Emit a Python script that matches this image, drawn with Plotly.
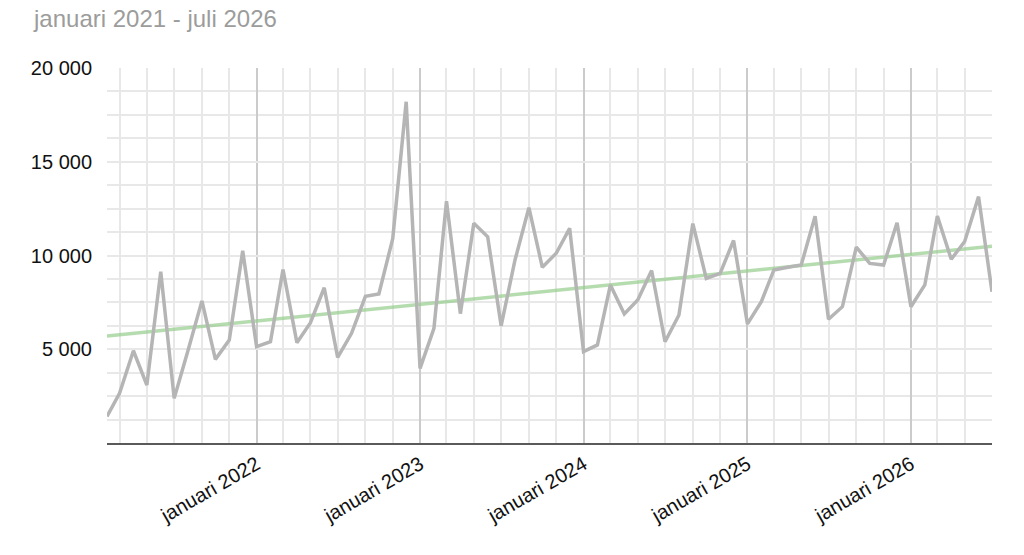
import pandas as pd
import plotly.graph_objects as go

# monthly values, februari 2021 .. juli 2026
months = pd.date_range("2021-02-01", periods=66, freq="MS")
values = [
    1420, 2650, 4920, 3090, 9140, 2380, 4950, 7580, 4460, 5490, 10250,
    5140, 5400, 9250, 5350, 6400, 8280, 4570, 5850, 7820, 7950, 10900, 18200,
    3980, 6120, 12900, 6900, 11720, 11000, 6250, 9760, 12550, 9370, 10120, 11450,
    4870, 5230, 8430, 6880, 7630, 9200, 5400, 6830, 11700, 8780, 9050, 10800,
    6350, 7540, 9230, 9370, 9490, 12100, 6600, 7270, 10450, 9580, 9490, 11750,
    7270, 8430, 12100, 9800, 10750, 13140, 8070,
]

# trend line end points
trend_x = [months[0], months[-1]]
trend_y = [5700, 10500]

year_ticks = ["2022-01-01", "2023-01-01", "2024-01-01", "2025-01-01", "2026-01-01"]
year_labels = ["januari 2022", "januari 2023", "januari 2024", "januari 2025", "januari 2026"]
y_ticks = [5000, 10000, 15000, 20000]

title_text = "januari 2021 - juli 2026"
font_family = "Liberation Sans, Arial, Helvetica, sans-serif"

W, H = 1024, 555
L, R, T, B = 107, 32, 68, 112

fig = go.Figure()

fig.add_trace(go.Scatter(
    x=trend_x, y=trend_y, mode="lines",
    line=dict(color="rgba(150,205,140,0.7)", width=3.5),
    hoverinfo="skip", showlegend=False,
))

fig.add_trace(go.Scatter(
    x=months, y=values, mode="lines",
    line=dict(color="#b5b5b5", width=3.5),
    showlegend=False,
))

fig.update_layout(
    width=W, height=H,
    margin=dict(l=L, r=R, t=T, b=B),
    paper_bgcolor="white", plot_bgcolor="white",
    separators=", ",
    font=dict(family=font_family, size=20, color="#111111"),
)

# heading in the top left corner
fig.add_annotation(
    text=title_text, xref="paper", yref="paper",
    x=(32 - L) / (W - L - R), xanchor="left",
    y=1 + (T - 18) / (H - T - B), yanchor="middle",
    showarrow=False, borderpad=0,
    font=dict(family=font_family, size=24, color="#9c9c9c"),
)

fig.update_xaxes(
    type="date",
    range=[months[0], months[-1]],
    tickvals=year_ticks, ticktext=year_labels,
    tickangle=-30,
    ticks="",
    showgrid=True, gridcolor="#cbcbcb", gridwidth=1.5,
    minor=dict(dtick="M2", tick0="2021-01-01", showgrid=True,
               gridcolor="#e8e8e8", gridwidth=1.5),
    showline=True, linecolor="#5a5a5a", linewidth=2,
    zeroline=False,
)

fig.update_yaxes(
    range=[0, 20000],
    tickvals=y_ticks, tickformat=",d",
    ticks="", ticklabelstandoff=14,
    showgrid=True, gridcolor="#e8e8e8", gridwidth=1.5,
    minor=dict(dtick=1250, tick0=0, showgrid=True,
               gridcolor="#e8e8e8", gridwidth=1.5),
    zeroline=False, showline=False,
)

# drop the default page margin so the figure fills the window
fig.write_html("out.html", config={"displayModeBar": False},
               post_script="document.body.style.margin='0';")
